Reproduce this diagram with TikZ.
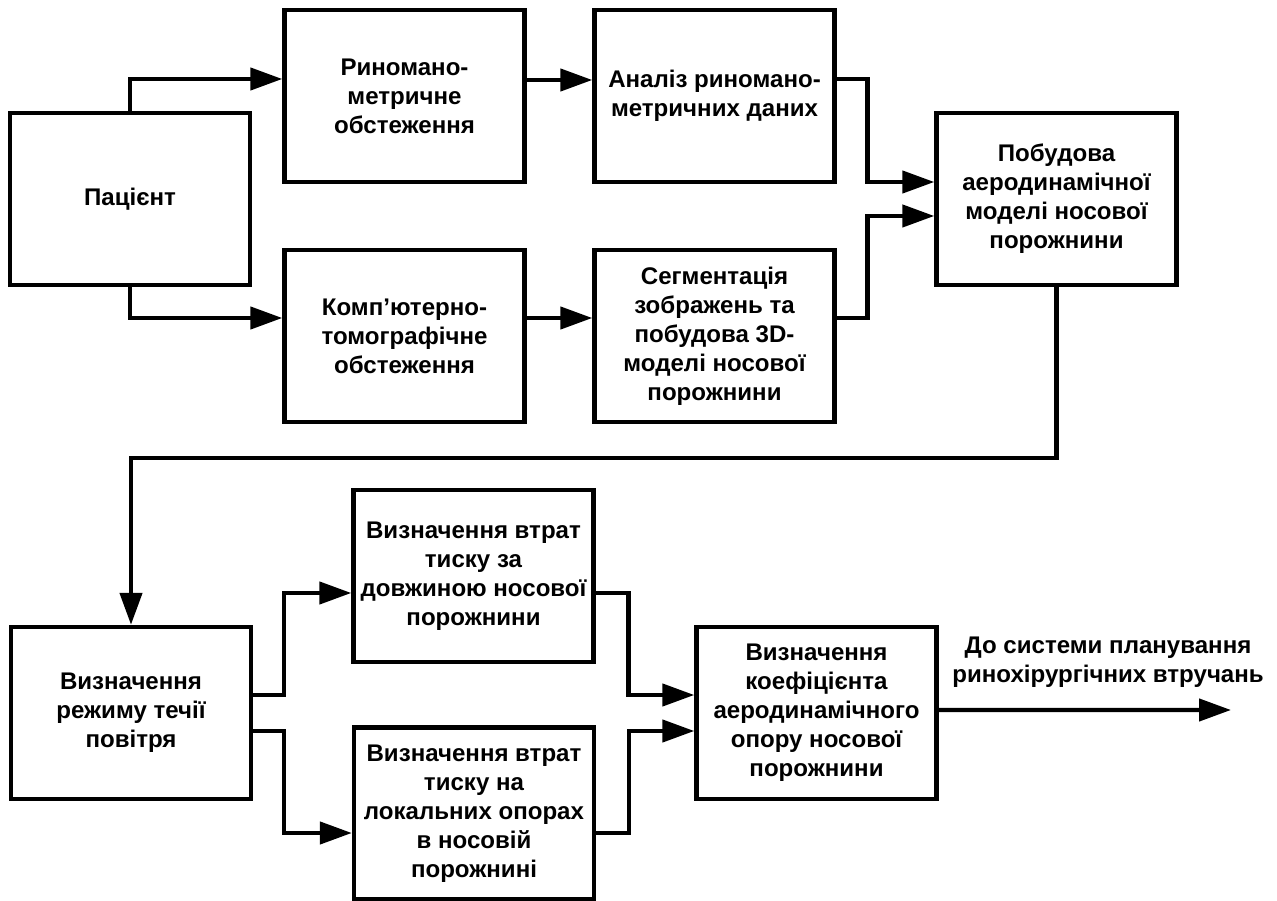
\documentclass[tikz,border=0pt]{standalone}
\usepackage{fontspec}
\setmainfont{Liberation Sans}
\usepackage{tikz}
\usetikzlibrary{positioning,arrows.meta,calc}

\begin{document}
\begin{tikzpicture}[x=0.02cm,y=-0.02cm,every node/.style={font=\fontsize{13.7pt}{16.5pt}\selectfont\bfseries,align=center},
  blok/.style={draw,line width=2.5pt,minimum width=4.8cm,minimum height=3.44cm,inner sep=1pt},
  strilka/.style={line width=2.5pt,-{Triangle[length=0.64cm,width=0.44cm]}}]
\useasboundingbox (0,0) rectangle (1277,901);
\node[blok] (pacient) at (130,199) {Пацієнт};
\node[blok] (rino) at (404.5,96) {Риномано-\\метричне\\обстеження};
\node[blok] (analiz) at (714.5,96) {Аналіз риномано-\\метричних даних};
\node[blok] (pobudova) at (1056.5,199) {Побудова\\аеродинамічної\\моделі носової\\порожнини};
\node[blok] (komp) at (404.5,336) {Комп’ютерно-\\томографічне\\обстеження};
\node[blok] (segm) at (714.5,336) {Сегментація\\зображень та\\побудова 3D-\\моделі носової\\порожнини};
\node[blok] (rezhym) at (131,713) {Визначення\\режиму течії\\повітря};
\node[blok] (dovzh) at (473.5,576) {Визначення втрат\\тиску за\\довжиною носової\\порожнини};
\node[blok] (lokal) at (474,813.5) {Визначення втрат\\тиску на\\локальних опорах\\в носовій\\порожнині};
\node[blok] (koef) at (816.5,713) {Визначення\\коефіцієнта\\аеродинамічного\\опору носової\\порожнини};
\coordinate (vyhid) at (1231,710);
\node (meta) at (1108,662) {До системи планування\\ринохірургічних втручань};

\draw[strilka] (pacient.north) |- ([yshift=0.34cm]rino.west);
\draw[strilka] (pacient.south) |- ([yshift=0.36cm]komp.west);
\draw[strilka] ([yshift=0.32cm]rino.east) -- ([yshift=0.32cm]analiz.west);
\draw[strilka] ([yshift=0.36cm]komp.east) -- ([yshift=0.36cm]segm.west);
\draw[strilka] ([yshift=0.34cm]analiz.east) -- ++(31,0) |- ([yshift=0.34cm]pobudova.west);
\draw[strilka] ([yshift=0.36cm]segm.east) -- ++(31,0) |- ([yshift=-0.34cm]pobudova.west);
\draw[strilka] (pobudova.south) -- ++(0,171) -| (rezhym.north);
\draw[strilka] ([yshift=0.36cm]rezhym.east) -- ++(31,0) |- ([yshift=-0.34cm]dovzh.west);
\draw[strilka] ([yshift=-0.36cm]rezhym.east) -- ++(31,0) |- ([yshift=-0.39cm]lokal.west);
\draw[strilka] ([yshift=-0.34cm]dovzh.east) -- ++(33,0) |- ([yshift=0.36cm]koef.west);
\draw[strilka] ([yshift=-0.39cm]lokal.east) -- ++(33,0) |- ([yshift=-0.36cm]koef.west);
\draw[strilka] ([yshift=0.06cm]koef.east) -- (vyhid);
\end{tikzpicture}
\end{document}
